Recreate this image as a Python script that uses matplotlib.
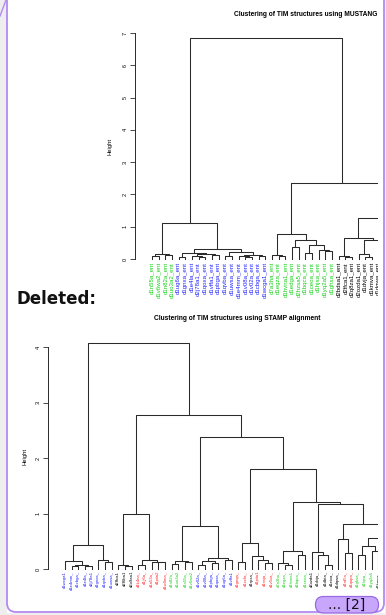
import matplotlib
matplotlib.use("Agg")
import matplotlib.pyplot as plt
from matplotlib.patches import Rectangle, FancyBboxPatch

plt.rcParams['font.family'] = ['Liberation Sans', 'DejaVu Sans']

W, H = 386, 615

# ---- top chart: MUSTANG ----
top_title = "Clustering of TIM structures using MUSTANG alignment"
top_labels = [
    "d1n55a_ent", "d1v6wa2_ent", "d1n82a_ent", "d1uo3a2_ent",
    "d1ug6a_ent", "d1gnxa_ent", "d1e4la_ent", "d2j78a1_ent", "d1qoxa_ent", "d1vffa1_ent",
    "d1pbga_ent", "d1qvba_ent", "d1uwsa_ent", "d1e4mm_ent", "d1v08a_ent", "d1v02a_ent",
    "d1cbga_ent", "d1wcga1_ent",
    "d7a3ha_ent", "d1egza_ent", "d1hvna1_ent", "d1edga_ent", "d2hzsa5_ent", "d1bqca_ent",
    "d1ceoa_ent", "d1hjsa_ent", "d1yq2a5_ent", "d1ghsa_ent",
    "d2bdsa1_ent", "d2ffca1_ent", "d2q8za1_ent", "d2ozda1_ent", "d1dvja_ent", "d1kmva_ent",
    "d1dqwa_ent", "d1dbta_ent",
    "d1k4na_ent", "d1jj6a_ent", "d1a53a_ent", "d1piia2_ent", "d1w0ma_ent", "d2f6ba1_ent",
    "d1geqa_ent", "d1xcfa_ent", "d1rpxa_ent", "d1piia1_ent", "d1nsja_ent", "d1v5xa_ent",
    "d2o9aa1_ent", "d1rd5a_ent", "d1qopa_ent", "d1eixa_ent",
]
top_groups = "g" * 4 + "b" * 14 + "g" * 10 + "k" * 8 + "rrrrrk" + "rrkrrr" + "krrk"

# merges as (left, right, height); ints are leaf positions
top_green4 = ((0, 1, 0.10), (2, 3, 0.13), 0.14)
top_blue = (((4, 5, 0.07), ((6, (7, 8, 0.06), 0.10), (9, 10, 0.12), 0.16), 0.19),
            ((11, 12, 0.08), ((13, (14, 15, 0.07), 0.08), (16, 17, 0.10), 0.12), 0.22), 0.30)
top_green10 = ((18, (19, 20, 0.08), 0.12),
               ((21, 22, 0.38), ((23, 24, 0.20), (25, (26, 27, 0.25), 0.27), 0.43), 0.59), 0.78)
top_black = ((28, (29, 30, 0.05), 0.10), ((31, (32, 33, 0.05), 0.17), (34, 35, 0.28), 0.60), 0.65)
top_rest = (((36, 37, 0.15), ((38, 39, 0.10), (40, 41, 0.20), 0.30), 0.52),
            ((42, (43, 44, 0.12), 0.22), ((45, 46, 0.10), ((47, 48, 0.08), (49, (50, 51, 0.05), 0.10), 0.18), 0.30), 0.45), 0.95)
top_tree = ((top_green4, top_blue, 1.13), (top_green10, (top_black, top_rest, 1.28), 2.35), 6.85)
top_ticks = [0, 1, 2, 3, 4, 5, 6, 7]

# ---- bottom chart: STAMP ----
bot_title = "Clustering of TIM structures using STAMP alignment"
bot_labels = [
    "d1wcga1", "d1e4mm_", "d1cbga_", "d1e4la_", "d2j78a1", "d1gnxa_", "d1qvba_", "d1uwsa_",
    "d2ffca1", "d2f6ba1", "d2o9aa1",
    "d1k4na_", "d1jj6a_", "d1a53a_", "d1piia2", "d1w0ma_",
    "d1n82a_", "d1uo3a2", "d1n55a_", "d1v6wa2",
    "d1v02a_", "d1v08a_", "d1pbga_", "d1qoxa_", "d1ug6a_", "d1vffa1",
    "d1geqa_", "d1xcfa_", "d1rpxa_", "d1piia1", "d1nsja_", "d1v5xa_",
    "d7a3ha_", "d1egza_", "d1hvna1", "d1bqca_", "d1ceoa_",
    "d2ozda1", "d1dvja_", "d1dbta_", "d1eixa_", "d1dqwa_", "d1rd5a_", "d1qopa_",
    "d1ghsa_", "d1hjsa_", "d1yq2a5", "d1kmva_", "d2bdsa1", "d2q8za1", "d1edga_", "d2hzsa5",
]
bot_groups = ("b" * 8 + "k" * 3 + "r" * 5 + "g" * 4 + "b" * 6 + "rrkrrr" + "g" * 5
              + "k" * 5 + "rr" + "ggg" + "kkkgg")

bot_left = ((0, ((1, 2, 0.06), (3, 4, 0.05), 0.08), 0.14), (5, (6, 7, 0.12), 0.17), 0.43)
bot_m1 = ((8, (9, 10, 0.05), 0.08), ((11, 12, 0.08), (13, (14, 15, 0.12), 0.13), 0.17), 1.0)
bot_n1 = (((16, 17, 0.09), (18, 19, 0.12), 0.14),
          (((20, 21, 0.07), (22, 23, 0.10), 0.15), (24, 25, 0.17), 0.20), 0.78)
bot_p = ((26, 27, 0.13), (28, (29, (30, 31, 0.10), 0.17), 0.24), 0.47)
bot_g5 = ((32, (33, 34, 0.07), 0.11), (35, 36, 0.25), 0.33)
bot_k4 = (37, (38, (39, 40, 0.08), 0.25), 0.31)
bot_e = (41, (42, 43, 0.28), 0.54)
bot_f = (((44, 45, 0.26), (46, 47, 0.33), 0.41), ((48, 49, 0.20), (50, 51, 0.15), 0.30), 0.56)
bot_b = (bot_g5, (bot_k4, (bot_e, bot_f, 0.81), 1.17), 1.21)
bot_tree = (bot_left, (bot_m1, (bot_n1, (bot_p, bot_b, 1.80), 2.38), 2.78), 4.08)
bot_ticks = [0, 1, 2, 3, 4]

colors = {"g": "#12d012", "b": "#2020ff", "r": "#ff2020", "k": "#000000"}
line_col = "#2a2a2a"


def draw_tree(ax, node):
    if isinstance(node, int):
        return float(node), 0.0
    left, right, h = node
    xl, hl = draw_tree(ax, left)
    xr, hr = draw_tree(ax, right)
    ax.plot([xl, xl, xr, xr], [hl, h, h, hr], color=line_col, lw=0.75, clip_on=False)
    return (xl + xr) / 2, h


fig = plt.figure(figsize=(W / 100, H / 100), dpi=100)
fig.patch.set_facecolor("white")

step = 6.667  # px per leaf


def dendro(axis_px, leaf0_px, zero_px, px_per_unit, ymax, right_px, tree, labels, groups,
           ticks, title, title_xy, hlabel_xy, lab_size, lab_gap):
    top_px = zero_px - ymax * px_per_unit
    rect = [axis_px / W, (H - zero_px) / H, (right_px - axis_px) / W, (zero_px - top_px) / H]
    ax = fig.add_axes(rect)
    ax.set_facecolor("none")
    x0 = -(leaf0_px - axis_px) / step
    ax.set_xlim(x0, x0 + (right_px - axis_px) / step)
    ax.set_ylim(0, ymax)
    draw_tree(ax, tree)
    for i, (lab, g) in enumerate(zip(labels, groups)):
        ax.text(i, -lab_gap / px_per_unit, lab, rotation=90, ha="center", va="top",
                fontsize=lab_size, color=colors[g], clip_on=False)
    for s in ["top", "right", "bottom"]:
        ax.spines[s].set_visible(False)
    ax.spines["left"].set_bounds(ticks[0], ticks[-1])
    ax.spines["left"].set_linewidth(0.7)
    ax.spines["left"].set_color(line_col)
    ax.set_xticks([])
    ax.set_yticks(ticks)
    ax.set_yticklabels([str(t) for t in ticks], rotation=90, va="center")
    ax.tick_params(axis="y", labelsize=4, length=3.5, width=0.6, pad=2, color=line_col)
    fig.text(title_xy[0] / W, 1 - title_xy[1] / H, title, fontsize=4.8, fontweight="bold",
             ha="center", va="center")
    fig.text(hlabel_xy[0] / W, 1 - hlabel_xy[1] / H, "Height", fontsize=4.2, rotation=90,
             ha="center", va="center")
    return ax


dendro(135, 152, 259, 32.29, 7.0, 510, top_tree, top_labels, top_groups, top_ticks,
       top_title, (322.5, 15), (110, 146), 4.4, 3)
dendro(48, 65, 569, 55.4, 4.2, 427, bot_tree, bot_labels, bot_groups, bot_ticks,
       bot_title, (237.5, 319), (25, 456), 3.1, 2)

# ---- page overlay (document margins, "Deleted:" marker, comment button) ----
ov = fig.add_axes([0, 0, 1, 1], zorder=10)
ov.set_xlim(0, W)
ov.set_ylim(H, 0)
ov.axis("off")
ov.patch.set_alpha(0)
purple = "#b48af2"
ov.add_patch(Rectangle((378, 0), 8, H, color="white", lw=0))
ov.add_patch(Rectangle((0, 0), 6.5, H, color="#eeeeee", lw=0))
ov.add_patch(Rectangle((385, 0), 2, H, color="#eeeeee", lw=0))
ov.add_patch(Rectangle((0, 613), W, 3, color="#eeeeee", lw=0))
ov.add_patch(FancyBboxPatch((7, -20), 377, 632, boxstyle="round,pad=0,rounding_size=9",
                            fc="none", ec=purple, lw=1.3))
ov.plot([0, 6], [16, 0], color=purple, lw=1.0)
ov.text(17, 304, "Deleted:", fontsize=12, fontweight="bold", family="DejaVu Sans",
        ha="left", va="baseline", color="#111111")
ov.add_patch(FancyBboxPatch((315.5, 596.5), 63, 16.5, boxstyle="round,pad=0,rounding_size=8",
                            fc="#c7a6fb", ec="#9a6ae6", lw=0.9, zorder=3))
ov.text(347, 605, "... [2]", fontsize=10, family="DejaVu Sans", ha="center", va="center",
        color="#111111", zorder=4)

fig.savefig("out.png", dpi=100)
